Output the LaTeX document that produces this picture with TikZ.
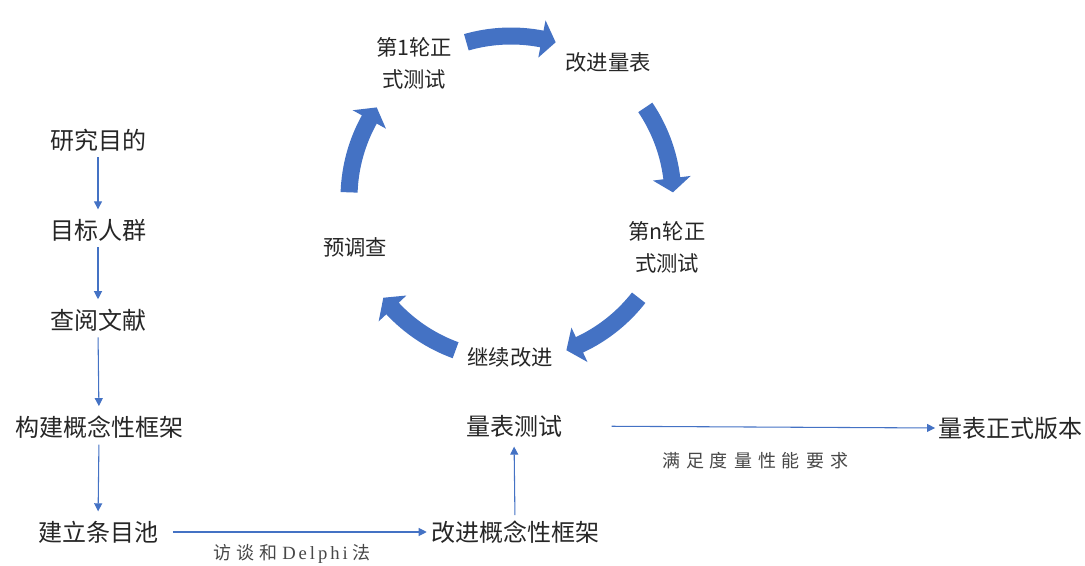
\documentclass[tikz,border=0pt]{standalone}
\usepackage{fontspec}
\usetikzlibrary{arrows.meta}
\newfontfamily\cjk{Noto Sans CJK SC}
\newfontfamily\serifl{Liberation Serif}
\definecolor{blu}{HTML}{4472C4}
\definecolor{txt}{HTML}{262626}
\newcommand\gapx{\hspace{4.5pt}}
\newcommand\gapz{\hspace{3.8pt}}
\newcommand\gapy{\hspace{2.2pt}}
% tail angle #1, tip angle #2 (clockwise arrow)
\newcommand\cycarr[2]{%
  \fill[cyc] (#1:170.5) arc[start angle=#1, end angle={#2+5}, radius=170.5]
    -- ({#2+5}:181) -- (#2:162) -- ({#2+5}:143) -- ({#2+5}:153.5)
    arc[start angle={#2+5}, end angle=#1, radius=153.5] -- cycle;}
\begin{document}
\begin{tikzpicture}[x=0.75pt,y=-0.75pt,
  lbl/.style={font=\cjk\fontsize{18}{22}\selectfont, text=txt, inner sep=0pt},
  cyl/.style={font=\cjk\fontsize{16}{24}\selectfont, text=txt, inner sep=0pt, align=center},
  elbl/.style={font=\cjk\fontsize{13.5}{16}\selectfont, text=txt!85, inner sep=0pt},
  conn/.style={draw=blu, line width=0.8pt, -{Triangle[length=6pt,width=6pt]}},
  cyc/.style={fill=blu}]
\useasboundingbox (0,0) rectangle (1085,566);

% left column
\node[lbl] (goal)  at (98,140) {研究目的};
\node[lbl] (group) at (98,230) {目标人群};
\node[lbl] (lit)   at (98,320) {查阅文献};
\node[lbl] (frame) at (99,427) {构建概念性框架};
\node[lbl] (pool)  at (98,532) {建立条目池};

\foreach \a/\b in {goal/group, group/lit, lit/frame, frame/pool}
  \draw[conn, shorten <=4.5pt, shorten >=7pt] (\a.south) -- (\b.south |- \b.north);

% bottom row
\node[lbl] (improve) at (515,532) {改进概念性框架};
\node[lbl] (test)    at (514,426) {量表测试};
\node[lbl] (final)   at (1010,428) {量表正式版本};

\draw[conn, shorten <=11pt, shorten >=3pt] (pool.east) -- (improve.west);
\node[elbl] (l1) at (292,554) {访\gapz 谈\gapz 和\gapz{\serifl\fontsize{14}{16}\selectfont D\gapy e\gapy l\gapy p\gapy h\gapy i}\gapz 法};
\draw[conn, shorten <=4pt, shorten >=7pt] (improve.north) -- (test.south);
\draw[conn, shorten <=37pt, shorten >=2pt] (test.east) -- (final.west);
\node[elbl] (l2) at (755,461) {满\gapx 足\gapx 度\gapx 量\gapx 性\gapx 能\gapx 要\gapx 求};

% cycle labels
\node[cyl] (first) at (414,63)  {第1轮正\\式测试};
\node[cyl] (revs)  at (608,62)  {改进量表};
\node[cyl] (nth)   at (667,247) {第n轮正\\式测试};
\node[cyl] (cont)  at (510,357) {继续改进};
\node[cyl] (pre)   at (355,247) {预调查};

% cycle arrows
\begin{scope}[shift={(511,198)}, x=0.75pt, y=0.75pt]
  \cycarr{106}{74}
  \cycarr{34}{2}
  \cycarr{-38}{-70}
  \cycarr{-110}{-142}
  \cycarr{178}{146}
\end{scope}
\end{tikzpicture}
\end{document}
